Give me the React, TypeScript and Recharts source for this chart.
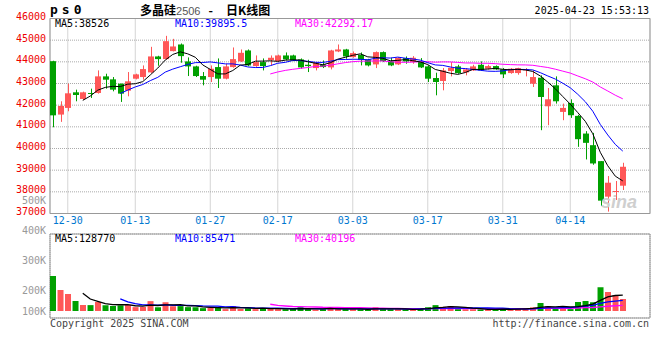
import React from 'react';
import { ComposedChart, Bar, Line, XAxis, YAxis, CartesianGrid, ReferenceArea, Cell } from 'recharts';

// trading days shown on the chart
const dates = [
  '12-26', '12-27', '12-30', '12-31', '01-02', '01-03', '01-06', '01-07', '01-08', '01-09',
  '01-10', '01-13', '01-14', '01-15', '01-16', '01-17', '01-20', '01-21', '01-22', '01-23',
  '01-24', '01-27', '02-05', '02-06', '02-07', '02-10', '02-11', '02-12', '02-13', '02-14',
  '02-17', '02-18', '02-19', '02-20', '02-21', '02-24', '02-25', '02-26', '02-27', '02-28',
  '03-03', '03-04', '03-05', '03-06', '03-07', '03-10', '03-11', '03-12', '03-13', '03-14',
  '03-17', '03-18', '03-19', '03-20', '03-21', '03-24', '03-25', '03-26', '03-27', '03-28',
  '03-31', '04-01', '04-02', '04-03', '04-07', '04-08', '04-09', '04-10', '04-11', '04-14',
  '04-15', '04-16', '04-17', '04-18', '04-21', '04-22', '04-23',
];

const opens = [
  44030, 41566, 41873, 42593, 42287, 42562, 42562, 43329, 43191, 42992,
  42670, 43222, 43298, 43513, 44249, 44126, 44494, 44801, 44019, 43789,
  43344, 43298, 43758, 43222, 43758, 44019, 44525, 43804, 43988, 44080,
  44034, 44295, 44295, 44111, 43865, 43712, 43881, 43743, 44479, 44571,
  44218, 44325, 44111, 43881, 44448, 44019, 43881, 44172, 43988, 44019,
  43789, 43252, 43115, 43574, 43789, 43513, 43605, 43865, 43682, 43804,
  43651, 43482, 43482, 43605, 42992, 43267, 41949, 42915, 41689, 42103,
  41505, 40690, 40153, 39417, 37777, 37992, 38283,
];
const highs = [
  44050, 42179, 42992, 42716, 42624, 42762, 43605, 43452, 43298, 42992,
  43528, 43452, 43835, 44693, 44280, 45199, 45061, 44847, 44203, 43820,
  43528, 43835, 44157, 43912, 44663, 44571, 44571, 44295, 44157, 44295,
  44330, 44433, 44330, 44157, 44096, 43988, 44065, 44555, 44801, 44600,
  44479, 44433, 44140, 44479, 44479, 44188, 44210, 44249, 44264, 44172,
  43835, 43498, 43712, 43988, 43865, 43712, 43865, 44019, 43865, 43835,
  43712, 43712, 43727, 43712, 43605, 43375, 42792, 43329, 42072, 42271,
  41550, 40800, 40720, 39417, 38728, 38498, 39341,
];
const lows = [
  40980, 41229, 41719, 42179, 42241, 42332, 42532, 42762, 42639, 42149,
  42409, 43190, 43176, 43490, 43820, 44100, 44480, 43958, 43344, 43298,
  42915, 43069, 42792, 43190, 43730, 43990, 43800, 43770, 43605, 43835,
  43990, 44080, 44030, 43681, 43528, 43605, 43712, 43651, 44448, 44142,
  44190, 43835, 43789, 43712, 43988, 43800, 43850, 43912, 43912, 43712,
  43069, 42455, 42685, 43329, 43452, 43375, 43580, 43580, 43650, 43630,
  43252, 43450, 43406, 43329, 42838, 40845, 41075, 42072, 41306, 41413,
  40077, 39494, 39250, 37348, 37087, 37624, 38084,
];
const closes = [
  41530, 41965, 42547, 42470, 42593, 42532, 43329, 43176, 42716, 42532,
  43100, 43421, 43666, 44249, 44126, 44954, 44709, 44264, 43789, 43344,
  43176, 43682, 43222, 43789, 44126, 44417, 43835, 43988, 43804, 44188,
  44295, 44111, 44065, 43743, 43804, 43958, 43758, 44525, 44571, 44249,
  44402, 44096, 43835, 44448, 44034, 43835, 44188, 44019, 44188, 43743,
  43222, 43069, 43605, 43727, 43482, 43651, 43789, 43605, 43804, 43651,
  43421, 43682, 43712, 43666, 43298, 42378, 42271, 42179, 41873, 41536,
  40430, 40261, 39310, 37593, 38421, 38038, 39157,
];
const volumes = [
  280000, 168000, 136000, 80000, 48000, 47000, 72000, 46000, 40000, 45000,
  48000, 31000, 32000, 79000, 30000, 70000, 38000, 39000, 31000, 30000,
  23000, 24000, 30000, 15000, 40000, 16000, 22000, 15000, 21000, 23000,
  15000, 14000, 16000, 30000, 15000, 11000, 14000, 31000, 15000, 14000,
  15000, 14000, 13000, 30000, 14000, 13000, 14000, 13000, 12000, 22000,
  30000, 47000, 33000, 40000, 15000, 14000, 14000, 13000, 12000, 13000,
  21000, 10000, 21000, 22000, 29000, 64000, 38000, 16000, 36000, 15000,
  72000, 80000, 70000, 190000, 152000, 128000, 96000,
];

const priceTicks = [37000, 38000, 39000, 40000, 41000, 42000, 43000, 44000, 45000, 46000];
const volLabelTicks = [100000, 200000, 300000, 400000, 500000];
const dateTicks = ['12-30', '01-13', '01-27', '02-17', '03-03', '03-17', '03-31', '04-14'];

const RED = '#ff5757';
const GREEN = '#00a000';
const MONO = '"DejaVu Sans Mono", monospace';
const GRID = '#aaaaaa';
const FRAME = '#999999';

const X_DOMAIN: [number, number] = [-0.37, 79.63];
const VOL_DOMAIN: [number, number] = [-56000, 616000];
const VOL_LABEL_DOMAIN: [number, number] = [106667, 386667];
const VOL_TOP = 190;
const VOL_H = 130;
const VOL_MARGIN = { top: 44, right: 10, bottom: 2, left: 4 };

const movingAvg = (vals: number[], n: number) =>
  vals.map((_, i) =>
    i < n - 1 ? null : vals.slice(i - n + 1, i + 1).reduce((a, b) => a + b, 0) / n
  );

const ma5 = movingAvg(closes, 5);
const ma10 = movingAvg(closes, 10);
const ma30 = movingAvg(closes, 30);
const vma5 = movingAvg(volumes, 5);
const vma10 = movingAvg(volumes, 10);
const vma30 = movingAvg(volumes, 30);

const data = dates.map((d, i) => ({
  i,
  date: d,
  range: [lows[i], highs[i]],
  open: opens[i],
  close: closes[i],
  ma5: ma5[i],
  ma10: ma10[i],
  ma30: ma30[i],
  vol: volumes[i],
  vma5: vma5[i],
  vma10: vma10[i],
  vma30: vma30[i],
}));

const tickIdx = dateTicks.map((d) => dates.indexOf(d));

const Candle = (props: any) => {
  const { x, y, width, height, payload } = props;
  if (!payload || y == null || height == null) return null;
  const top = Math.min(y, y + height);
  const h = Math.abs(height);
  const [lo, hi] = payload.range;
  const k = hi > lo ? h / (hi - lo) : 0;
  const up = payload.close >= payload.open;
  const color = up ? RED : GREEN;
  const bodyTop = top + (hi - Math.max(payload.open, payload.close)) * k;
  const bodyH = Math.max(1, Math.abs(payload.close - payload.open) * k);
  const bx = Math.round(x);
  const bw = Math.round(width);
  const cx = bx + Math.floor(bw / 2) + 0.5;
  return (
    <g>
      <line x1={cx} x2={cx} y1={top} y2={top + h} stroke={color} strokeWidth={1} />
      <rect x={bx} y={bodyTop} width={bw} height={bodyH} fill={color} />
    </g>
  );
};

const priceTick = (p: any) => (
  <text x={p.x} y={p.y - 2} dy="0.355em" textAnchor="end" fill="#ee0000" fontSize={10} fontFamily={MONO}>
    {p.payload.value}
  </text>
);

const volTick = (p: any) => (
  <text
    x={p.x}
    y={Math.min(p.y, VOL_H - VOL_MARGIN.bottom - 7)}
    dy="0.355em"
    textAnchor="end"
    fill="#999999"
    fontSize={10}
    fontFamily={MONO}
  >
    {p.payload.value / 1000}K
  </text>
);

const T = ({ x, y, color = '#000', right, children, style }: any) => (
  <div
    style={{
      position: 'absolute',
      top: y - 6,
      ...(right ? { right: 660 - x } : { left: x }),
      lineHeight: '12px',
      fontSize: 10,
      fontFamily: MONO,
      color,
      whiteSpace: 'pre',
      ...style,
    }}
  >
    {children}
  </div>
);

export default function App() {
  return (
    <div style={{ position: 'absolute', left: 0, top: 0, width: 660, height: 360, background: '#fff', overflow: 'hidden' }}>
      <div style={{ position: 'absolute', left: 0, top: 0 }}>
        <ComposedChart width={660} height={229} data={data} margin={{ top: 18.5, right: 10, bottom: 0, left: 4 }}>
          <CartesianGrid stroke={GRID} strokeDasharray="1 1" />
          <XAxis
            type="number"
            dataKey="i"
            domain={X_DOMAIN}
            allowDataOverflow
            ticks={tickIdx}
            interval={0}
            tickFormatter={(v: number) => dates[v]}
            tick={{ fill: '#0078d0', fontSize: 10, fontFamily: MONO }}
            tickLine={false}
            tickSize={0}
            tickMargin={3}
            axisLine={false}
            height={15.5}
          />
          <YAxis
            domain={[37000, 46000]}
            allowDataOverflow
            ticks={priceTicks}
            interval={0}
            tick={priceTick}
            tickLine={false}
            tickSize={0}
            tickMargin={4}
            axisLine={false}
            width={46}
          />
          <ReferenceArea x1={X_DOMAIN[0]} x2={X_DOMAIN[1]} y1={37000} y2={46000} fill="none" stroke={FRAME} strokeWidth={1} ifOverflow="visible" />
          <Bar dataKey="range" barSize={6} shape={<Candle />} isAnimationActive={false} />
          <Line dataKey="ma30" stroke="#ff00ff" strokeWidth={1} dot={false} isAnimationActive={false} />
          <Line dataKey="ma10" stroke="#0000ff" strokeWidth={1} dot={false} isAnimationActive={false} />
          <Line dataKey="ma5" stroke="#000000" strokeWidth={1} dot={false} isAnimationActive={false} />
        </ComposedChart>
      </div>

      <div style={{ position: 'absolute', left: 0, top: VOL_TOP }}>
        <ComposedChart width={660} height={VOL_H} data={data} margin={VOL_MARGIN}>
          <CartesianGrid stroke={GRID} strokeDasharray="1 1" yAxisId="v" />
          <XAxis
            type="number"
            dataKey="i"
            domain={X_DOMAIN}
            allowDataOverflow
            ticks={tickIdx}
            interval={0}
            tick={false}
            tickLine={false}
            axisLine={false}
            height={0}
          />
          <YAxis
            yAxisId="lab"
            domain={VOL_LABEL_DOMAIN}
            allowDataOverflow
            ticks={volLabelTicks}
            interval={0}
            tick={volTick}
            tickLine={false}
            tickSize={0}
            tickMargin={4}
            axisLine={false}
            width={46}
          />
          <YAxis
            yAxisId="v"
            orientation="right"
            domain={VOL_DOMAIN}
            allowDataOverflow
            ticks={[112000, 280000, 448000]}
            interval={0}
            tick={false}
            tickLine={false}
            axisLine={false}
            width={0}
          />
          <ReferenceArea yAxisId="v" x1={X_DOMAIN[0]} x2={X_DOMAIN[1]} y1={VOL_DOMAIN[0]} y2={VOL_DOMAIN[1]} fill="none" stroke={FRAME} strokeWidth={1} ifOverflow="visible" />
          <Bar yAxisId="v" dataKey="vol" barSize={6} isAnimationActive={false}>
            {data.map((d, i) => (
              <Cell key={i} fill={d.close >= d.open ? RED : GREEN} />
            ))}
          </Bar>
          <Line yAxisId="v" dataKey="vma30" stroke="#ff00ff" strokeWidth={1.3} dot={false} isAnimationActive={false} />
          <Line yAxisId="v" dataKey="vma10" stroke="#0000ff" strokeWidth={1.3} dot={false} isAnimationActive={false} />
          <Line yAxisId="v" dataKey="vma5" stroke="#000000" strokeWidth={1.3} dot={false} isAnimationActive={false} />
        </ComposedChart>
      </div>

      {/* header */}
      <div style={{ position: 'absolute', left: 50, top: 3, fontFamily: MONO, fontWeight: 'bold', fontSize: 13, letterSpacing: 4, lineHeight: '14px' }}>
        ps0
      </div>
      <div style={{ position: 'absolute', left: 140, top: 3, lineHeight: '14px', whiteSpace: 'pre', fontFamily: '"Noto Sans CJK SC", sans-serif', fontSize: 12, fontWeight: 'bold', color: '#000' }}>
        多晶硅
        <span style={{ fontFamily: '"Liberation Sans", sans-serif', fontWeight: 'normal', fontSize: 11, color: '#555' }}>2506</span>
        <span style={{ display: 'inline-block', marginLeft: 8, marginRight: 13 }}>-</span>
        日K线图
      </div>
      <T x={649} y={11} right>2025-04-23 15:53:13</T>

      <T x={55} y={24}>MA5:38526</T>
      <T x={175} y={24} color="#0000ff">MA10:39895.5</T>
      <T x={295} y={24} color="#ff00ff">MA30:42292.17</T>

      <T x={55} y={239}>MA5:128770</T>
      <T x={175} y={239} color="#0000ff">MA10:85471</T>
      <T x={295} y={239} color="#ff00ff">MA30:40196</T>

      <div style={{ position: 'absolute', left: 601, top: 193, fontFamily: '"Liberation Sans", sans-serif', fontStyle: 'italic', fontWeight: 'bold', fontSize: 18, lineHeight: '18px', color: '#cfcfcf' }}>
        sina
      </div>

      <T x={50} y={324} color="#444">Copyright 2025 SINA.COM</T>
      <T x={649} y={324} color="#444" right>http://finance.sina.com.cn</T>
    </div>
  );
}
